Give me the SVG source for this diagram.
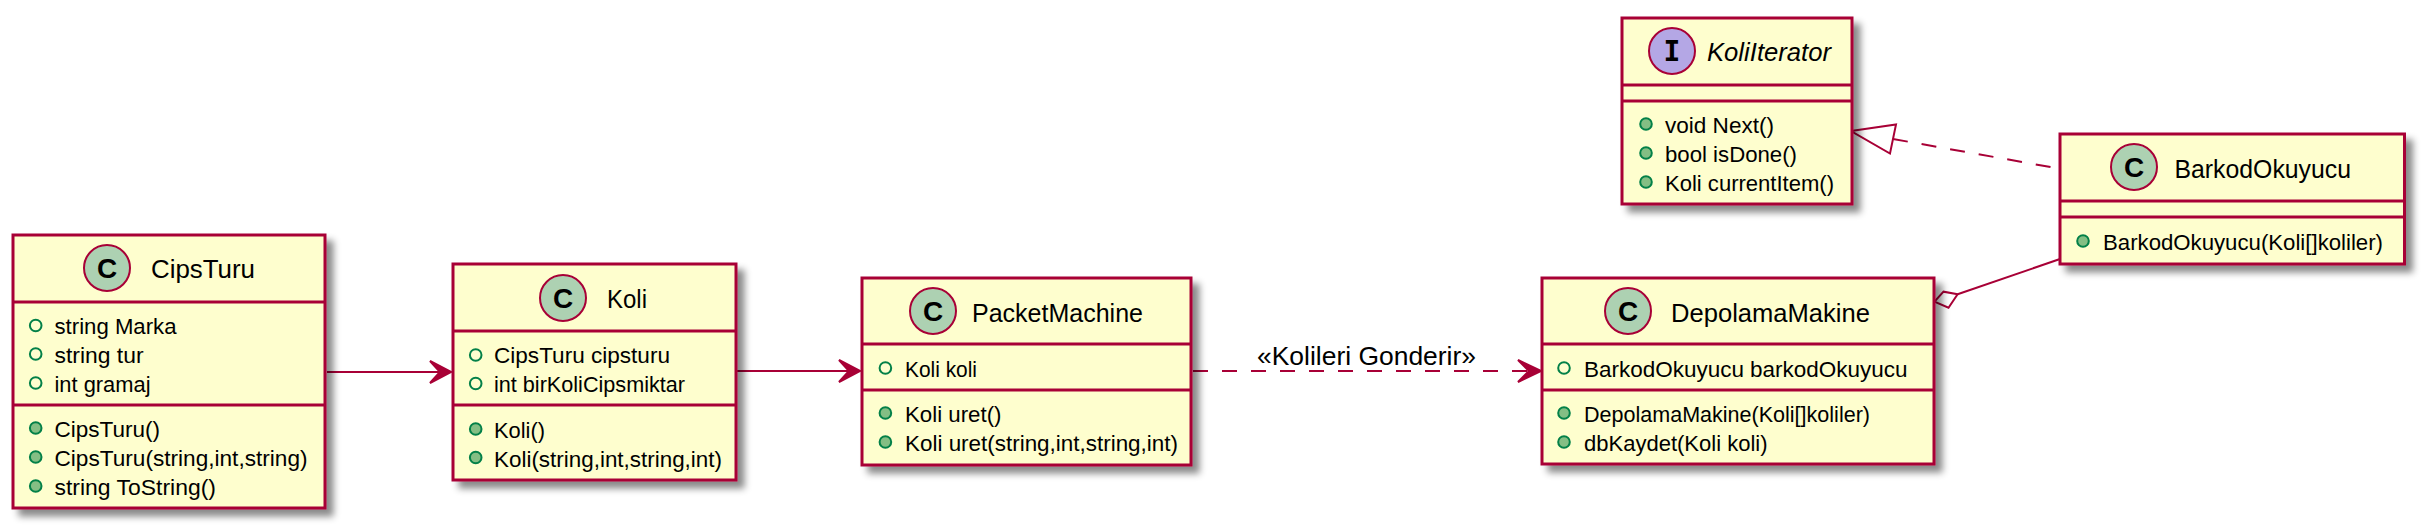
<svg xmlns="http://www.w3.org/2000/svg" width="2425" height="529" viewBox="0 0 2425 529">
<style>
text{font-family:"Liberation Sans",Arial,sans-serif;fill:#000}
.box{fill:#FEFECE;stroke:#A80036;stroke-width:3;filter:url(#shadow)}
.sep{stroke:#A80036;stroke-width:3;fill:none}
.badge{stroke:#A80036;stroke-width:2}
.c{fill:#ADD1B2}
.i{fill:#B4A7E5}
.glyph{font-weight:bold;font-size:28px;text-anchor:middle}
.title{font-size:25px}
.mem{font-size:22.500px}
.label{font-size:26px}
.field{fill:none;stroke:#038048;stroke-width:2}
.method{fill:#84BE84;stroke:#038048;stroke-width:2}
.edge{fill:none;stroke:#A80036;stroke-width:2}
.dash{stroke-dasharray:15 14}
.head{fill:#A80036;stroke:#A80036;stroke-width:2}
.hollow{fill:#fff;stroke:#A80036;stroke-width:2}
</style>
<defs>
<filter id="shadow" x="-10%" y="-10%" width="125%" height="125%">
<feDropShadow dx="7" dy="7" stdDeviation="3.500" flood-color="#000" flood-opacity="0.46"/>
</filter>
</defs>
<rect width="2425" height="529" fill="#fff"/>
<g id="connectors">
<path class="edge" d="M327 372H440"/>
<path class="head" d="M451 372L430 361L440 372L430 383Z"/>
<path class="edge" d="M737 371H850"/>
<path class="head" d="M860 371L839 360L849 371L839 382Z"/>
<path class="edge dash" d="M1193 371H1530"/>
<path class="head" d="M1541 371L1518 360L1529 371L1518 382Z"/>
<text class="label" x="1257" y="365" textLength="219" lengthAdjust="spacingAndGlyphs">«Kolileri Gonderir»</text>
<path class="edge dash" d="M1893 139L2056 168"/>
<path class="hollow" d="M1851 131L1896 124.500L1890 153.500Z"/>
<path class="edge" d="M2060 259L1957.600 294.300"/>
<path class="hollow" d="M1934.500 301.700L1943.500 291.700L1957.600 294.300L1948.500 307.700Z"/>
</g>
<g id="CipsTuru">
<rect class="box" x="13" y="235" width="312" height="273"/>
<path class="sep" d="M13 302H325M13 405H325"/>
<circle class="badge c" cx="107" cy="268" r="23"/>
<text class="glyph" x="107" y="278">C</text>
<text class="title" x="151" y="278" textLength="104" lengthAdjust="spacingAndGlyphs">CipsTuru</text>
<circle class="field" cx="35.700" cy="325.500" r="5.800"/>
<circle class="field" cx="35.700" cy="354" r="5.800"/>
<circle class="field" cx="35.700" cy="383" r="5.800"/>
<text class="mem" x="54.500" y="334" textLength="122" lengthAdjust="spacingAndGlyphs">string Marka</text>
<text class="mem" x="54.500" y="363" textLength="89" lengthAdjust="spacingAndGlyphs">string tur</text>
<text class="mem" x="54.500" y="391.500" textLength="96" lengthAdjust="spacingAndGlyphs">int gramaj</text>
<circle class="method" cx="35.700" cy="428" r="5.800"/>
<circle class="method" cx="35.700" cy="457" r="5.800"/>
<circle class="method" cx="35.700" cy="486" r="5.800"/>
<text class="mem" x="54.500" y="437" textLength="105.500" lengthAdjust="spacingAndGlyphs">CipsTuru()</text>
<text class="mem" x="54.500" y="466" textLength="253" lengthAdjust="spacingAndGlyphs">CipsTuru(string,int,string)</text>
<text class="mem" x="54.500" y="495" textLength="161.500" lengthAdjust="spacingAndGlyphs">string ToString()</text>
</g>
<g id="Koli">
<rect class="box" x="453" y="264" width="283" height="216"/>
<path class="sep" d="M453 331H736M453 405H736"/>
<circle class="badge c" cx="563" cy="298" r="23"/>
<text class="glyph" x="563" y="308">C</text>
<text class="title" x="607" y="308" textLength="40" lengthAdjust="spacingAndGlyphs">Koli</text>
<circle class="field" cx="475.700" cy="355" r="5.800"/>
<circle class="field" cx="475.700" cy="383.500" r="5.800"/>
<text class="mem" x="494" y="363" textLength="176" lengthAdjust="spacingAndGlyphs">CipsTuru cipsturu</text>
<text class="mem" x="494" y="392" textLength="191" lengthAdjust="spacingAndGlyphs">int birKoliCipsmiktar</text>
<circle class="method" cx="475.700" cy="429" r="5.800"/>
<circle class="method" cx="475.700" cy="457.500" r="5.800"/>
<text class="mem" x="494" y="437.500" textLength="51" lengthAdjust="spacingAndGlyphs">Koli()</text>
<text class="mem" x="494" y="466.500" textLength="228" lengthAdjust="spacingAndGlyphs">Koli(string,int,string,int)</text>
</g>
<g id="PacketMachine">
<rect class="box" x="862" y="278" width="329" height="187"/>
<path class="sep" d="M862 344H1191M862 390H1191"/>
<circle class="badge c" cx="933" cy="311" r="23"/>
<text class="glyph" x="933" y="321">C</text>
<text class="title" x="972" y="322" textLength="171" lengthAdjust="spacingAndGlyphs">PacketMachine</text>
<circle class="field" cx="885.400" cy="368" r="5.800"/>
<text class="mem" x="905" y="377" textLength="72" lengthAdjust="spacingAndGlyphs">Koli koli</text>
<circle class="method" cx="885.400" cy="413" r="5.800"/>
<circle class="method" cx="885.400" cy="442" r="5.800"/>
<text class="mem" x="905" y="422" textLength="96.500" lengthAdjust="spacingAndGlyphs">Koli uret()</text>
<text class="mem" x="905" y="451" textLength="273" lengthAdjust="spacingAndGlyphs">Koli uret(string,int,string,int)</text>
</g>
<g id="DepolamaMakine">
<rect class="box" x="1542" y="278" width="392" height="186"/>
<path class="sep" d="M1542 344H1934M1542 390H1934"/>
<circle class="badge c" cx="1628" cy="311" r="23"/>
<text class="glyph" x="1628" y="321">C</text>
<text class="title" x="1671" y="322" textLength="199" lengthAdjust="spacingAndGlyphs">DepolamaMakine</text>
<circle class="field" cx="1564" cy="368" r="5.800"/>
<text class="mem" x="1584" y="377" textLength="323.500" lengthAdjust="spacingAndGlyphs">BarkodOkuyucu barkodOkuyucu</text>
<circle class="method" cx="1564" cy="413" r="5.800"/>
<circle class="method" cx="1564" cy="442" r="5.800"/>
<text class="mem" x="1584" y="422" textLength="286" lengthAdjust="spacingAndGlyphs">DepolamaMakine(Koli[]koliler)</text>
<text class="mem" x="1584" y="451" textLength="183.500" lengthAdjust="spacingAndGlyphs">dbKaydet(Koli koli)</text>
</g>
<g id="KoliIterator">
<rect class="box" x="1622" y="18" width="230" height="186"/>
<path class="sep" d="M1622 85H1852M1622 101H1852"/>
<circle class="badge i" cx="1672" cy="51" r="23"/>
<text class="glyph" x="1672" y="61" style="font-family:'DejaVu Sans Mono',monospace">I</text>
<text class="title" x="1707" y="61" font-style="italic" textLength="124" lengthAdjust="spacingAndGlyphs">KoliIterator</text>
<circle class="method" cx="1646" cy="124" r="5.800"/>
<circle class="method" cx="1646" cy="153" r="5.800"/>
<circle class="method" cx="1646" cy="182" r="5.800"/>
<text class="mem" x="1665" y="133" textLength="109" lengthAdjust="spacingAndGlyphs">void Next()</text>
<text class="mem" x="1665" y="162" textLength="132" lengthAdjust="spacingAndGlyphs">bool isDone()</text>
<text class="mem" x="1665" y="191" textLength="169" lengthAdjust="spacingAndGlyphs">Koli currentItem()</text>
</g>
<g id="BarkodOkuyucu">
<rect class="box" x="2060" y="134" width="344.500" height="130"/>
<path class="sep" d="M2060 201H2404.500M2060 217H2404.500"/>
<circle class="badge c" cx="2134" cy="167" r="23"/>
<text class="glyph" x="2134" y="177">C</text>
<text class="title" x="2174.500" y="178" textLength="176.500" lengthAdjust="spacingAndGlyphs">BarkodOkuyucu</text>
<circle class="method" cx="2083" cy="241" r="5.800"/>
<text class="mem" x="2103" y="249.500" textLength="280" lengthAdjust="spacingAndGlyphs">BarkodOkuyucu(Koli[]koliler)</text>
</g>
</svg>
